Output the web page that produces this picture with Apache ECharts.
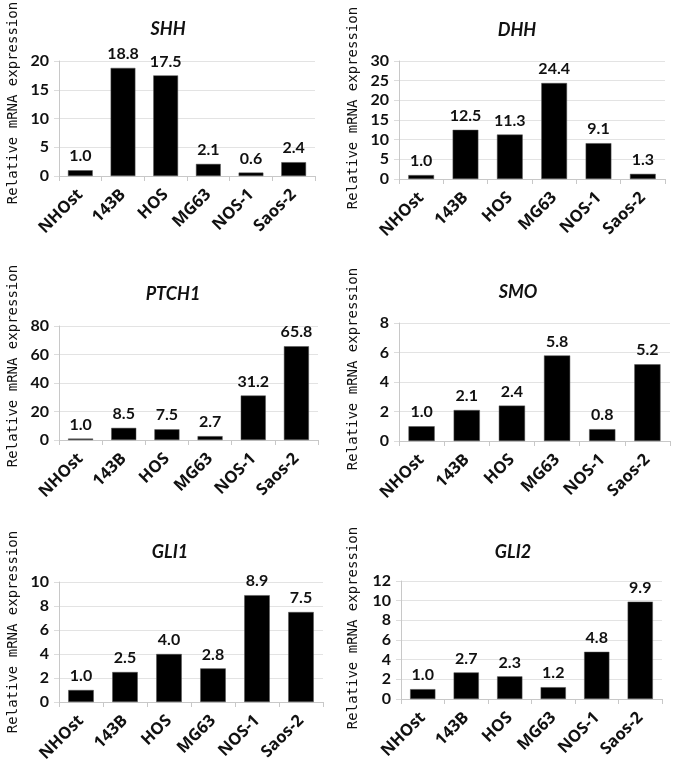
<!DOCTYPE html>
<html>
<head>
    <meta charset="utf-8">
    <script src="https://cdn.jsdelivr.net/npm/echarts@6/dist/echarts.min.js"></script>
    <style>
        body { margin: 0; background: #fff; }
        #main { width: 685px; height: 780px; }
    </style>
</head>
<body>
<div id="main"></div>
<script type="text/javascript">
    // 细胞系（横轴类别）
    var cellLines = ['NHOst', '143B', 'HOS', 'MG63', 'NOS-1', 'Saos-2'];
    // 各基因的相对表达量
    var shh   = [1.0, 18.8, 17.5, 2.1, 0.6, 2.4];
    var dhh   = [1.0, 12.5, 11.3, 24.4, 9.1, 1.3];
    var ptch1 = [1.0, 8.5, 7.5, 2.7, 31.2, 65.8];
    var smo   = [1.0, 2.1, 2.4, 5.8, 0.8, 5.2];
    var gli1  = [1.0, 2.5, 4.0, 2.8, 8.9, 7.5];
    var gli2  = [1.0, 2.7, 2.3, 1.2, 4.8, 9.9];
    var geneNames = ['SHH', 'DHH', 'PTCH1', 'SMO', 'GLI1', 'GLI2'];
    var yMax = [20, 30, 80, 8, 10, 12];
    var yStep = [5, 5, 20, 2, 2, 2];
    var yTitle = 'Relative mRNA expression';

    var geneData = [shh, dhh, ptch1, smo, gli1, gli2];

    // 每个小图的位置
    var grids = [
        {left: 59, top: 61, width: 256, height: 115},
        {left: 399, top: 61, width: 266, height: 118},
        {left: 59, top: 326, width: 259, height: 114},
        {left: 399, top: 323, width: 271, height: 118},
        {left: 59, top: 582, width: 264, height: 120},
        {left: 401, top: 581, width: 261, height: 118}
    ];
    var titlePos = [[168, 29], [517, 30], [173, 294], [518, 292], [170, 552], [513, 552]];
    var namePos = [[13, 103], [353, 108], [13, 366], [353, 369], [13, 632], [353, 628]];

    var font = 'Lato, "Open Sans", sans-serif';

    var xAxes = [], yAxes = [], series = [], graphics = [];
    for (var i = 0; i < 6; i++) {
        xAxes.push({
            type: 'category', gridIndex: i, data: cellLines,
            axisLine: {lineStyle: {color: '#c8c8c8', width: 1}},
            axisTick: {show: true, length: 5, lineStyle: {color: '#c8c8c8'}},
            axisLabel: {rotate: 45, margin: 16, interval: 0, color: '#111',
                fontFamily: '"Open Sans", sans-serif', fontWeight: 'bold', fontSize: 16.5}
        });
        yAxes.push({
            type: 'value', gridIndex: i, min: 0, max: yMax[i], interval: yStep[i],
            axisLine: {show: true, lineStyle: {color: '#c8c8c8', width: 1}},
            axisTick: {show: true, length: 5, lineStyle: {color: '#dcdcdc'}},
            splitLine: {lineStyle: {color: '#e3e3e3', width: 1}},
            axisLabel: {color: '#111', fontFamily: font, fontWeight: 'bold', fontSize: 16, margin: 10}
        });
        series.push({
            type: 'bar', xAxisIndex: i, yAxisIndex: i, data: geneData[i],
            barWidth: '58%',
            itemStyle: {color: '#000', borderColor: '#555', borderWidth: 0.5},
            label: {show: true, position: 'top', distance: 6, color: '#111',
                fontFamily: font, fontWeight: 'bold', fontSize: 16,
                formatter: function (p) { return p.value.toFixed(1); }}
        });
        graphics.push({
            type: 'text', x: titlePos[i][0], y: titlePos[i][1],
            style: {text: geneNames[i], fill: '#111', font: 'italic bold 18px ' + font,
                textAlign: 'center', textVerticalAlign: 'middle'}
        });
        graphics.push({
            type: 'text', x: namePos[i][0], y: namePos[i][1], rotation: Math.PI / 2,
            style: {text: yTitle, fill: '#111', font: '14px "DejaVu Sans Mono", monospace',
                textAlign: 'center', textVerticalAlign: 'middle'}
        });
    }

    var myChart = echarts.init(document.getElementById('main'), null, {renderer: 'canvas'});
    var option = {
        animation: false,
        backgroundColor: '#fff',
        grid: grids,
        xAxis: xAxes,
        yAxis: yAxes,
        series: series,
        graphic: graphics
    };
    myChart.setOption(option);
</script>
</body>
</html>
